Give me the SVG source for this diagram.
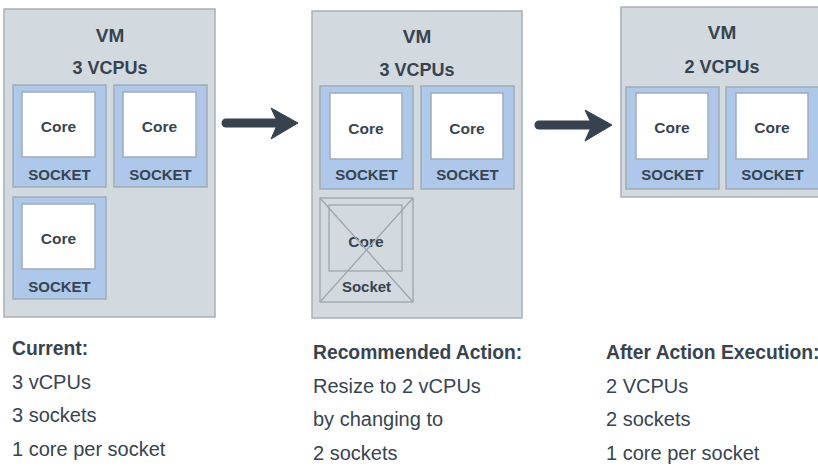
<svg xmlns="http://www.w3.org/2000/svg" width="818" height="466" viewBox="0 0 818 466">
<style>
.vm{fill:#d2d9df;stroke:#a8b0b7;stroke-width:1.5}
.sock{fill:#adc8ea;stroke:#a3acb4;stroke-width:1.5}
.core{fill:#ffffff;stroke:#a3acb4;stroke-width:1.5}
.gone{fill:none;stroke:#9fa6ad;stroke-width:1.3}
text{font-family:"Liberation Sans",Arial,sans-serif;fill:#37444f}
.t1{font-size:19px;font-weight:bold;text-anchor:middle}
.t2{font-size:18px;font-weight:bold;text-anchor:middle}
.tc{font-size:15.5px;font-weight:bold;text-anchor:middle}
.ts{font-size:15px;font-weight:bold;text-anchor:middle}
.h{font-size:19.3px;font-weight:bold}
.b{font-size:20px}
.arr{fill:#36434e;stroke:#36434e}
</style>
<rect width="818" height="466" fill="#ffffff"/>

<g id="vm-current">
<rect class="vm" x="4" y="9" width="211" height="308"/>
<text class="t1" x="110" y="42">VM</text>
<text class="t2" x="110" y="74">3 VCPUs</text>
<g id="vm1-socket1">
<rect class="sock" x="13" y="85" width="93" height="102"/>
<rect class="core" x="22" y="92" width="73" height="65"/>
<text class="tc" x="58.5" y="132">Core</text>
<text class="ts" x="59.5" y="180">SOCKET</text>
</g>
<g id="vm1-socket2">
<rect class="sock" x="114" y="85" width="93" height="102"/>
<rect class="core" x="123" y="92" width="73" height="65"/>
<text class="tc" x="159.5" y="132">Core</text>
<text class="ts" x="160.5" y="180">SOCKET</text>
</g>
<g id="vm1-socket3">
<rect class="sock" x="13" y="197" width="93" height="102"/>
<rect class="core" x="22" y="204" width="73" height="65"/>
<text class="tc" x="58.5" y="244">Core</text>
<text class="ts" x="59.5" y="292">SOCKET</text>
</g>
</g>

<g id="vm-recommended">
<rect class="vm" x="312" y="11" width="210" height="307"/>
<text class="t1" x="417" y="43">VM</text>
<text class="t2" x="417" y="76">3 VCPUs</text>
<g id="vm2-socket1">
<rect class="sock" x="320" y="86" width="93" height="103"/>
<rect class="core" x="330" y="93" width="72" height="66"/>
<text class="tc" x="366" y="134">Core</text>
<text class="ts" x="366.5" y="180">SOCKET</text>
</g>
<g id="vm2-socket2">
<rect class="sock" x="421" y="86" width="93" height="103"/>
<rect class="core" x="431" y="93" width="72" height="66"/>
<text class="tc" x="467" y="134">Core</text>
<text class="ts" x="467.5" y="180">SOCKET</text>
</g>
<g id="vm2-socket-removed">
<rect class="gone" x="320" y="198" width="93" height="104"/>
<rect class="gone" x="329" y="205" width="73" height="66"/>
<text class="tc" x="366" y="247">Core</text>
<text class="ts" x="366.5" y="292">Socket</text>
<line class="gone" x1="320" y1="198" x2="413" y2="302"/>
<line class="gone" x1="413" y1="198" x2="320" y2="302"/>
</g>
</g>

<g id="vm-after">
<rect class="vm" x="621" y="7" width="204" height="190"/>
<text class="t1" x="722" y="39">VM</text>
<text class="t2" x="722" y="73">2 VCPUs</text>
<g id="vm3-socket1">
<rect class="sock" x="626" y="87" width="93" height="102"/>
<rect class="core" x="636" y="93" width="72" height="66"/>
<text class="tc" x="672" y="133">Core</text>
<text class="ts" x="672.5" y="180">SOCKET</text>
</g>
<g id="vm3-socket2">
<rect class="sock" x="726" y="87" width="93" height="102"/>
<rect class="core" x="736" y="93" width="72" height="66"/>
<text class="tc" x="772" y="133">Core</text>
<text class="ts" x="772.5" y="180">SOCKET</text>
</g>
</g>

<g id="connectors">
<line class="arr" x1="226" y1="123" x2="280" y2="123" stroke-width="9" stroke-linecap="round"/>
<path class="arr" stroke-width="1" d="M271,108 L298,123 L271,139 L278,123 Z"/>
<line class="arr" x1="539" y1="125" x2="594" y2="125" stroke-width="9" stroke-linecap="round"/>
<path class="arr" stroke-width="1" d="M585,110 L612,125 L585,141 L592,125 Z"/>
</g>

<g id="notes">
<text class="h" x="12" y="355">Current:</text>
<text class="b" x="12" y="389">3 vCPUs</text>
<text class="b" x="12" y="422">3 sockets</text>
<text class="b" x="12" y="456">1 core per socket</text>
<text class="h" x="313" y="359">Recommended Action:</text>
<text class="b" x="313" y="393">Resize to 2 vCPUs</text>
<text class="b" x="313" y="426">by changing to</text>
<text class="b" x="313" y="460">2 sockets</text>
<text class="h" x="606" y="359">After Action Execution:</text>
<text class="b" x="606" y="393">2 VCPUs</text>
<text class="b" x="606" y="426">2 sockets</text>
<text class="b" x="606" y="460">1 core per socket</text>
</g>
</svg>
